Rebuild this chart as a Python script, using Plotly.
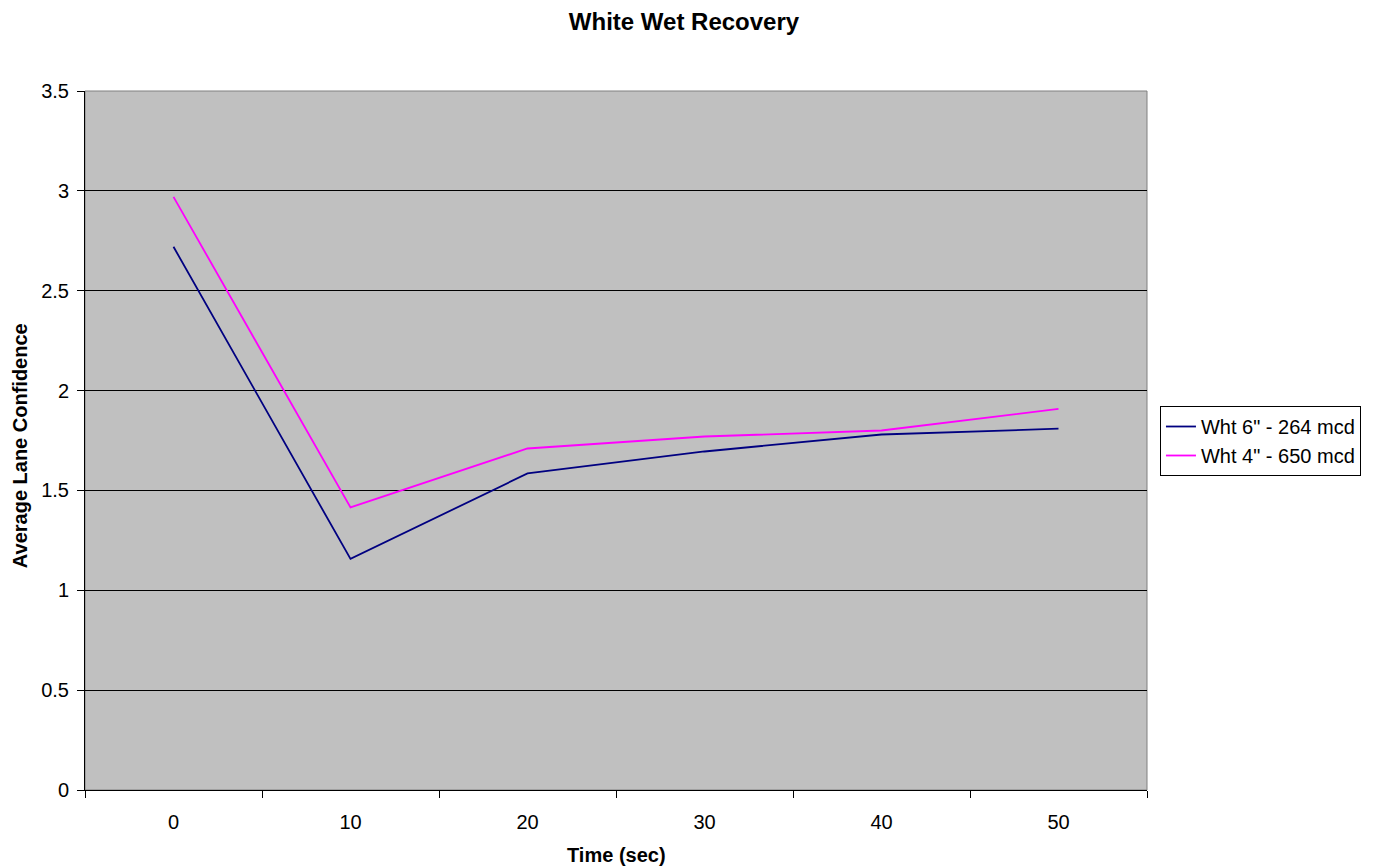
import plotly.graph_objects as go

categories = ["0", "10", "20", "30", "40", "50"]
wht6_264 = [2.72, 1.157, 1.585, 1.695, 1.78, 1.809]
wht4_650 = [2.97, 1.415, 1.71, 1.77, 1.80, 1.908]
y_ticks = [0, 0.5, 1, 1.5, 2, 2.5, 3, 3.5]
y_tick_labels = ["0", "0.5", "1", "1.5", "2", "2.5", "3", "3.5"]

FONT = "Liberation Sans, Arial, sans-serif"

W, H = 1365, 858  # page has an 8px body margin
L, T = 77, 83
PW, PH = 1065, 699
R = W - L - PW
B = H - T - PH

fig = go.Figure()
fig.add_trace(go.Scatter(x=categories, y=wht6_264, mode="lines",
                         name='Wht 6" - 264 mcd',
                         line=dict(color="#000080", width=1.8)))
fig.add_trace(go.Scatter(x=categories, y=wht4_650, mode="lines",
                         name='Wht 4" - 650 mcd',
                         line=dict(color="#FF00FF", width=1.8)))

fig.update_layout(
    width=W, height=H,
    margin=dict(l=L, r=R, t=T, b=B),
    paper_bgcolor="white",
    plot_bgcolor="#C0C0C0",
    font=dict(family=FONT, size=20, color="black"),
    title=dict(text="<b>White Wet Recovery</b>", x=(684 - 8) / W,
               xanchor="center", y=1 - 14 / H, yanchor="middle",
               font=dict(size=24)),
    showlegend=True,
    legend=dict(x=(1163 - 85) / PW, xanchor="left", y=(790 - 441) / PH,
                yanchor="middle",
                bordercolor="black", borderwidth=1, bgcolor="white",
                font=dict(size=20), tracegroupgap=0),
    xaxis=dict(type="category", range=[-0.5, 5.5], tickson="boundaries",
               ticks="outside", ticklen=7, tickcolor="black",
               showline=True, linecolor="black", linewidth=1,
               showgrid=False, zeroline=False,
               ticklabelstandoff=14,
               tickfont=dict(size=20)),
    yaxis=dict(range=[0, 3.5], tickvals=y_ticks, ticktext=y_tick_labels,
               ticks="outside", ticklen=7, tickcolor="black",
               showline=True, linecolor="black", linewidth=1,
               showgrid=True, gridcolor="black", gridwidth=1,
               zeroline=False, ticklabelstandoff=4,
               tickfont=dict(size=20)),
)

fig.add_annotation(text="<b>Time (sec)</b>", xref="paper", yref="paper",
                   x=0.5, y=-(855 - 790) / PH, xanchor="center", yanchor="middle",
                   showarrow=False, font=dict(size=20))
fig.add_annotation(text="<b>Average Lane Confidence</b>", xref="paper", yref="paper",
                   x=(20 - 85) / PW, y=(790 - 446) / PH, xanchor="center",
                   yanchor="middle", textangle=-90,
                   showarrow=False, font=dict(size=20))

# gray frame on top and right of plot area
fig.add_shape(type="rect", xref="paper", yref="paper", x0=0, y0=0, x1=1, y1=1,
              line=dict(color="#808080", width=1), layer="below")

fig.write_html("out.html")
